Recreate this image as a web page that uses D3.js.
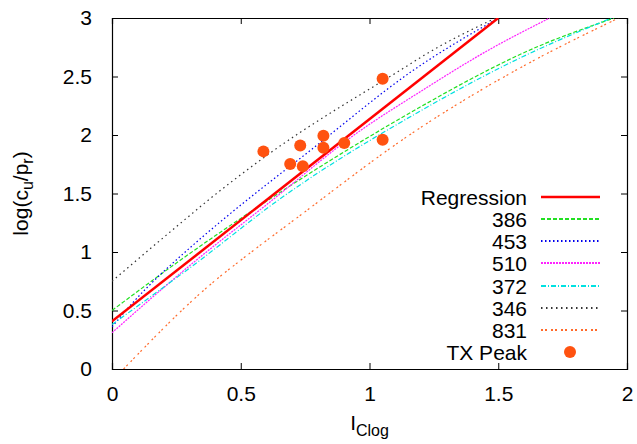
<!DOCTYPE html>
<html>
<head>
<meta charset="utf-8">
<script src="https://cdn.jsdelivr.net/npm/d3@7"></script>
<style>
body { margin: 0; background: #fff; }
text { font-family: "Liberation Sans", Arial, sans-serif; fill: #000; }
</style>
</head>
<body>
<svg width="637" height="444"></svg>
<script>
var margin = {top: 18, right: 10, bottom: 75, left: 112};
var width = 637 - margin.left - margin.right;
var height = 444 - margin.top - margin.bottom;

// Dados
var xTicks = [0, 0.5, 1, 1.5, 2];
var yTicks = [0, 0.5, 1, 1.5, 2, 2.5, 3];

var regression = [[0, 0.407], [1.5, 3.0]];
var c386 = [[0, 0.5], [0.259, 0.92], [0.609, 1.447], [1.197, 2.239], [1.43, 2.52], [1.586, 2.69], [1.95, 3.0]];
var c453 = [[0, 0.36], [0.078, 0.56], [0.324, 1.077], [0.44, 1.293], [0.777, 1.88], [1.166, 2.547], [1.5, 3.0]];
var c510 = [[0, 0.31], [0.298, 0.877], [0.6, 1.404], [0.951, 2.017], [1.197, 2.37], [1.456, 2.718], [1.7, 3.0]];
var c372 = [[0, 0.38], [0.324, 0.9], [0.648, 1.447], [1.197, 2.205], [1.586, 2.66], [1.94, 3.0]];
var c346 = [[0, 0.75], [0.29, 1.29], [0.376, 1.447], [0.589, 1.806], [1.166, 2.618], [1.197, 2.661], [1.49, 3.0]];
var c831 = [[0.045, 0], [0.389, 0.735], [0.536, 0.991], [0.7, 1.262], [1.197, 2.062], [1.586, 2.575], [1.968, 3.0]];
var txPeak = [[0.588, 1.86], [0.692, 1.752], [0.731, 1.911], [0.741, 1.732], [0.821, 1.994],
              [0.821, 1.891], [0.902, 1.932], [1.051, 2.481], [1.051, 1.96]];

var series = [
  {name: 'Regression', data: regression, color: '#ff0000', width: 2.5, dash: null},
  {name: '386', data: c386, color: '#22e022', width: 1.2, dash: '4,2'},
  {name: '453', data: c453, color: '#0000ee', width: 1.2, dash: '1.5,2.5'},
  {name: '510', data: c510, color: '#ff22ff', width: 1.2, dash: '2,1'},
  {name: '372', data: c372, color: '#00e0e0', width: 1.2, dash: '5,2,1,2'},
  {name: '346', data: c346, color: '#333333', width: 1.2, dash: '1.5,3.5'},
  {name: '831', data: c831, color: '#ff6a2a', width: 1.2, dash: '2,2,2,4'}
];

//Escalas
var xScale = d3.scaleLinear().domain([0, 2]).range([0, width]);
var yScale = d3.scaleLinear().domain([0, 3]).range([height, 0]);

var mySVG = d3.select('svg')
  .append('g')
  .attr('transform', 'translate(' + margin.left + ',' + margin.top + ')');

mySVG.append('clipPath').attr('id', 'clip')
  .append('rect').attr('width', width).attr('height', height);

// eixos com ticks para dentro, nos quatro lados
mySVG.append('g')
  .attr('transform', 'translate(0,' + height + ')')
  .call(d3.axisBottom(xScale).tickValues(xTicks).tickSize(-6).tickPadding(17).tickFormat(d3.format('')));
mySVG.append('g')
  .call(d3.axisTop(xScale).tickValues(xTicks).tickSize(-6).tickFormat(''));
mySVG.append('g')
  .call(d3.axisLeft(yScale).tickValues(yTicks).tickSize(-6).tickPadding(20).tickFormat(d3.format('')));
mySVG.append('g')
  .attr('transform', 'translate(' + width + ',0)')
  .call(d3.axisRight(yScale).tickValues(yTicks).tickSize(-6).tickFormat(''));

mySVG.selectAll('.domain').attr('stroke', '#000').attr('stroke-width', 1.2);
mySVG.selectAll('.tick line').attr('stroke', '#000');
mySVG.selectAll('.tick text').style('font-size', '21px').attr('fill', '#000');

// curvas
var line = d3.line()
  .x(d => xScale(d[0]))
  .y(d => yScale(d[1]))
  .curve(d3.curveMonotoneX);

var plot = mySVG.append('g').attr('clip-path', 'url(#clip)');

series.slice(1).concat([series[0]]).forEach(function(s) {
  plot.append('path')
    .datum(s.data)
    .attr('d', line)
    .attr('fill', 'none')
    .attr('stroke', s.color)
    .attr('stroke-width', s.width)
    .attr('stroke-dasharray', s.dash);
});

plot.selectAll('circle')
  .data(txPeak)
  .enter()
  .append('circle')
  .attr('cx', d => xScale(d[0]))
  .attr('cy', d => yScale(d[1]))
  .attr('r', 6)
  .attr('fill', '#ff5210');

// legenda
var legend = mySVG.append('g');
var rowH = 22.2;
var entries = series.map(d => d.name).concat(['TX Peak']);

entries.forEach(function(name, i) {
  var y = Math.round(196.7 - margin.top + i * rowH);
  legend.append('text')
    .attr('x', 527 - margin.left)
    .attr('y', y)
    .attr('dy', '0.36em')
    .attr('text-anchor', 'end')
    .style('font-size', '21px')
    .text(name);
  if (i < series.length) {
    var s = series[i];
    legend.append('line')
      .attr('x1', 541 - margin.left).attr('x2', 600 - margin.left)
      .attr('y1', y).attr('y2', y)
      .attr('stroke', s.color)
      .attr('stroke-width', Math.max(s.width, 2))
      .attr('stroke-dasharray', s.dash);
  } else {
    legend.append('circle')
      .attr('cx', 570 - margin.left).attr('cy', y)
      .attr('r', 6).attr('fill', '#ff5210');
  }
});

// titulos dos eixos
var xLabel = mySVG.append('text')
  .attr('x', width / 2)
  .attr('y', height + 61)
  .attr('text-anchor', 'middle')
  .style('font-size', '21px');
xLabel.append('tspan').text('I');
xLabel.append('tspan').attr('dy', 6).style('font-size', '16px').text('Clog');

var yLabel = mySVG.append('text')
  .attr('transform', 'translate(' + (28 - margin.left) + ',' + (height / 2) + ') rotate(-90)')
  .attr('text-anchor', 'middle')
  .style('font-size', '21px');
yLabel.append('tspan').text('log(c');
yLabel.append('tspan').attr('dy', 5).style('font-size', '16px').text('u');
yLabel.append('tspan').attr('dy', -5).text('/p');
yLabel.append('tspan').attr('dy', 5).style('font-size', '16px').text('r');
yLabel.append('tspan').attr('dy', -5).text(')');
</script>
</body>
</html>
